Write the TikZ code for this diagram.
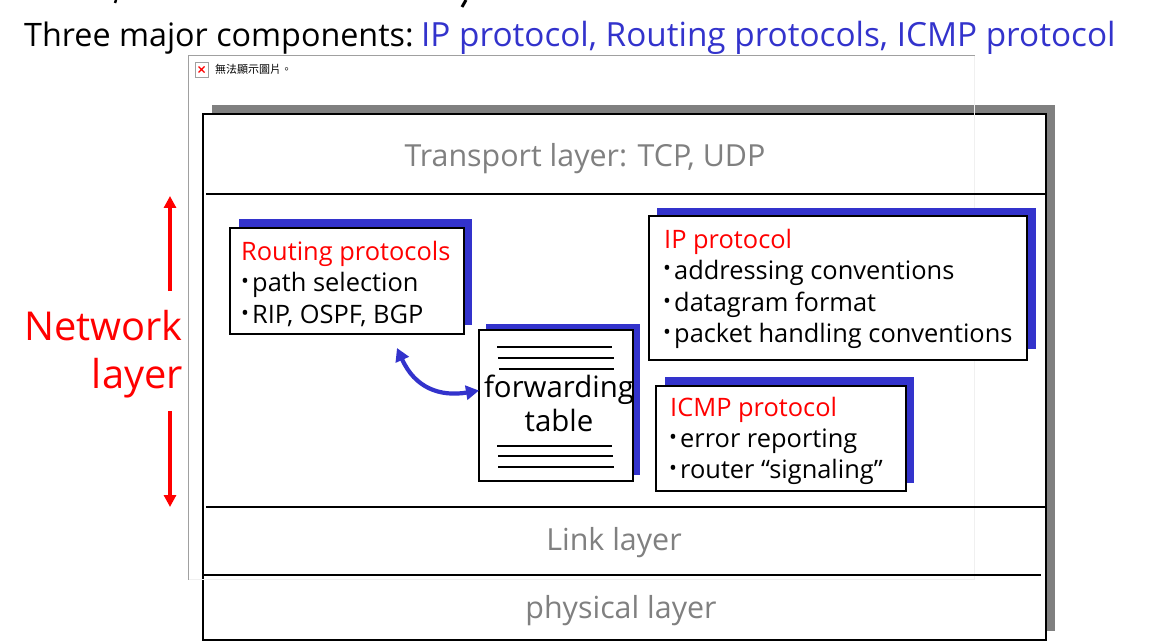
\documentclass[tikz,border=0pt]{standalone}
\usepackage{fontspec}
\setmainfont{Open Sans}
\newfontfamily\cjkfont{Noto Sans CJK TC}
\usetikzlibrary{arrows.meta,positioning}
\definecolor{slideblue}{HTML}{3333CC}
\definecolor{shadowgray}{HTML}{808080}
\definecolor{framegray}{HTML}{A0A0A0}
\definecolor{framelight}{HTML}{F0F0F0}
\newcommand{\dotmark}{\makebox[10pt][l]{\fontsize{21}{21}\selectfont\raisebox{3pt}{\hspace{-1pt}•}}}
\tikzset{
  x=1pt, y=-1pt,
  boxshadow/.style={fill=slideblue, draw=none},
  infobox/.style={draw, line width=2pt, fill=white, inner sep=0pt, outer sep=0pt},
  boxline/.style={anchor=base west, inner sep=0pt, font=\fontsize{25.4}{30}\selectfont},
  boxtitle/.style={boxline, text=red},
  layertext/.style={anchor=base, inner sep=0pt, text=shadowgray, font=\fontsize{30.4}{36}\selectfont},
  layerline/.style={line width=2pt},
  tableline/.style={line width=1.6pt},
  netarrow/.style={red, line width=3.5pt, -{Triangle[length=12pt,width=12pt]}},
  tablearrow/.style={slideblue, line width=4.2pt, {Triangle[length=13pt,width=14pt]}-{Triangle[length=13pt,width=14pt]}}
}

\begin{document}
\begin{tikzpicture}
\useasboundingbox (0,0) rectangle (1150,644);

% Draw cut off title marks.
\draw[line width=2.5pt] (116,0) -- (115,3);
\draw[line width=3pt] (466,0) -- (462,7);

% Draw title.
\node[anchor=base west, inner sep=0pt, font=\fontsize{32.3}{36}\selectfont] (title) at (24,46.5) {Three major components:};
\node[anchor=base west, inner sep=0pt, text=slideblue, font=\fontsize{33.3}{36}\selectfont] (titleblue) at (421,46.5) {IP protocol, Routing protocols, ICMP protocol};

% Draw layer stack.
\fill[shadowgray] (212,105) rectangle (1055,631);
\node[infobox, minimum width=843, minimum height=526] (stack) at (624.5,377) {};

% Draw picture placeholder.
\draw[framelight, line width=1pt] (974.5,55.5) -- (974.5,579.5) -- (188.5,579.5);
\draw[framegray, line width=1pt] (188.5,579.5) -- (188.5,55.5) -- (974.5,55.5);
\node[draw=framegray, fill=white, minimum width=13, minimum height=15, inner sep=0pt, outer sep=0pt] (icon) at (201.5,69.5) {};
\draw[red, line width=1.3pt] (icon.center) ++(-3,-3) -- ++(6,6) ++(-6,0) -- ++(6,-6);
\node[anchor=west, inner sep=0pt, font=\cjkfont\fontsize{11}{13}\selectfont] (icontext) at (215,69) {無法顯示圖片。};

% Draw layer lines.
\draw[layerline] (206,194.5) -- (1046,194.5);
\draw[layerline] (206,506.5) -- (1047,506.5);
\draw[layerline] (203,574.5) -- (1041,574.5);
\node[layertext] (transport) at (585,167) {Transport layer: TCP, UDP};
\node[layertext] (link) at (614,550) {Link layer};
\node[layertext] (physical) at (621,618) {physical layer};

% Draw network layer label.
\node[anchor=base east, inner sep=0pt, text=red, font=\fontsize{39.8}{44}\selectfont] (network) at (183,340) {Network};
\node[anchor=base east, inner sep=0pt, text=red, font=\fontsize{39.8}{44}\selectfont] (layer) at (183,388) {layer};
\coordinate (nettop) at (170,196);
\coordinate (netbottom) at (170,507);
\coordinate (netup) at (170,291);
\coordinate (netdown) at (170,411);
\draw[netarrow] (netup) -- (nettop);
\draw[netarrow] (netdown) -- (netbottom);

% Draw routing box.
\fill[boxshadow] (239,219) rectangle (472,325);
\node[infobox, minimum width=234, minimum height=106] (routing) at (347,281) {};
\node[boxtitle] (routing1) at (241,260) {Routing protocols};
\node[boxline] (routing2) at (242,291) {\dotmark path selection};
\node[boxline] (routing3) at (242,323) {\dotmark RIP, OSPF, BGP};

% Draw forwarding table.
\fill[boxshadow] (486,324) rectangle (640,475);
\node[infobox, minimum width=154, minimum height=151] (forwarding) at (556,405.5) {};
\draw[tableline] (497,347) -- (612,347);
\draw[tableline] (498,358) -- (614,358);
\draw[tableline] (499,369) -- (614,369);
\draw[tableline] (497,446) -- (612,446);
\draw[tableline] (498,456) -- (613,456);
\draw[tableline] (498,467) -- (614,467);
\node[anchor=base, inner sep=0pt, font=\fontsize{29.4}{36}\selectfont] (forwardingtext) at (559,397) {forwarding};
\node[anchor=base, inner sep=0pt, font=\fontsize{29.4}{36}\selectfont] (tabletext) at (559,431) {table};

% Draw IP box.
\fill[boxshadow] (657,208) rectangle (1036,349);
\node[infobox, minimum width=378, minimum height=144] (ip) at (838,288) {};
\node[boxtitle] (ip1) at (664,248) {IP protocol};
\node[boxline] (ip2) at (664,279) {\dotmark addressing conventions};
\node[boxline] (ip3) at (664,311) {\dotmark datagram format};
\node[boxline] (ip4) at (664,342) {\dotmark packet handling conventions};

% Draw ICMP box.
\fill[boxshadow] (665,377) rectangle (914,483);
\node[infobox, minimum width=250, minimum height=105] (icmp) at (781,438.5) {};
\node[boxtitle] (icmp1) at (670,416) {ICMP protocol};
\node[boxline] (icmp2) at (670,447) {\dotmark error reporting};
\node[boxline] (icmp3) at (670,478) {\dotmark router “signaling”};

% Draw curved arrow.
\coordinate (routingend) at (397,348);
\draw[tablearrow] (routingend) .. controls (415,388) and (440,397) .. (forwarding.169);
\end{tikzpicture}
\end{document}
